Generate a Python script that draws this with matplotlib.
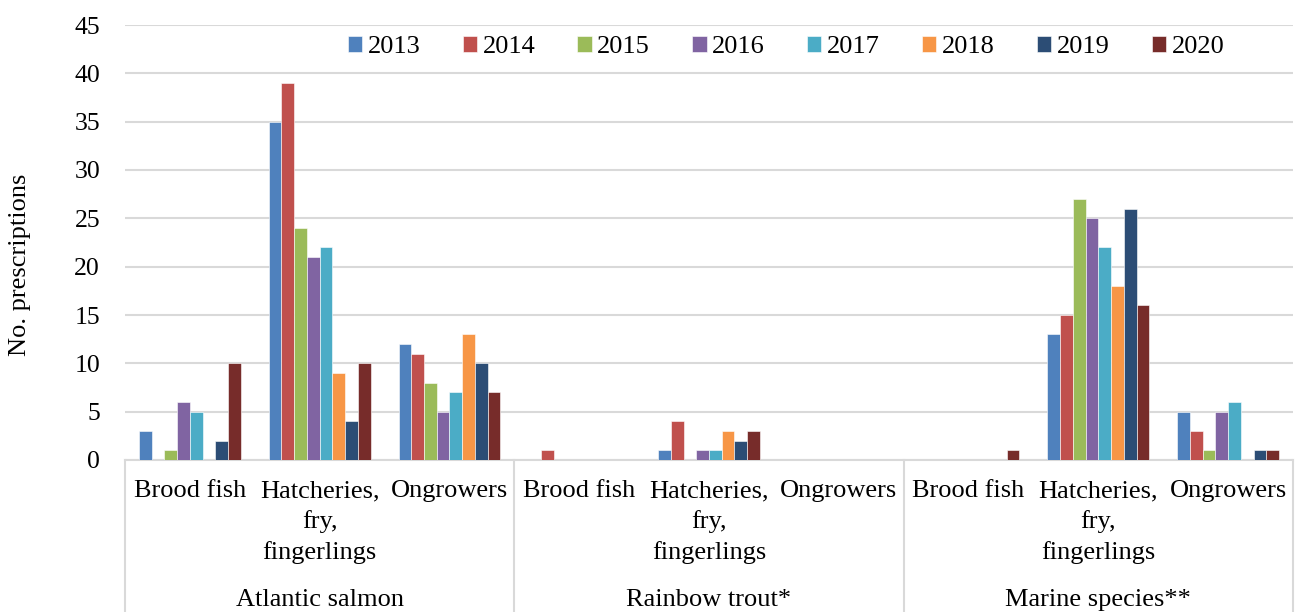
import matplotlib
matplotlib.use("Agg")
import matplotlib.pyplot as plt
import numpy as np
from matplotlib.transforms import blended_transform_factory
from matplotlib.lines import Line2D

years = ["2013", "2014", "2015", "2016", "2017", "2018", "2019", "2020"]
groups = ["Atlantic salmon", "Rainbow trout*", "Marine species**"]
stages = ["Brood fish", "Hatcheries,\nfry,\nfingerlings", "Ongrowers"]

# values per category (group x stage), one entry per year
salmon_brood = [3, 0, 1, 6, 5, 0, 2, 10]
salmon_hatch = [35, 39, 24, 21, 22, 9, 4, 10]
salmon_ongrow = [12, 11, 8, 5, 7, 13, 10, 7]
trout_brood = [0, 1, 0, 0, 0, 0, 0, 0]
trout_hatch = [1, 4, 0, 1, 1, 3, 2, 3]
trout_ongrow = [0, 0, 0, 0, 0, 0, 0, 0]
marine_brood = [0, 0, 0, 0, 0, 0, 0, 1]
marine_hatch = [13, 15, 27, 25, 22, 18, 26, 16]
marine_ongrow = [5, 3, 1, 5, 6, 0, 1, 1]

colors = ["#4F81BD", "#C0504D", "#9BBB59", "#8064A2", "#4BACC6",
          "#F79646", "#2C4D75", "#772C2A"]

data = np.array([salmon_brood, salmon_hatch, salmon_ongrow,
                 trout_brood, trout_hatch, trout_ongrow,
                 marine_brood, marine_hatch, marine_ongrow])

plt.rcParams['font.family'] = ['Liberation Serif', 'DejaVu Serif']
FS = 19

W, H = 1295, 612
fig = plt.figure(figsize=(W / 100, H / 100), dpi=100)
left, right, top, bottom = 125, 1293, 25, 460
ax = fig.add_axes([left / W, 1 - bottom / H, (right - left) / W, (bottom - top) / H])

ncat = data.shape[0]
x = np.arange(ncat)
bw = 1 / 10.2
for i, (yr, c) in enumerate(zip(years, colors)):
    ax.bar(x + (i - 3.5) * bw, data[:, i], width=bw, color=c, label=yr,
           edgecolor="white", linewidth=0.4, zorder=3)

ax.set_xlim(-0.5, ncat - 0.5)
ax.set_ylim(0, 45)
ax.set_yticks(np.arange(0, 46, 5))
ax.yaxis.grid(True, color="#D9D9D9", linewidth=1.5, zorder=0)
ax.set_axisbelow(True)
for s in ["left", "right", "top"]:
    ax.spines[s].set_visible(False)
ax.spines["bottom"].set_color("#D9D9D9")
ax.spines["bottom"].set_linewidth(1.5)
ax.tick_params(axis="y", length=0, labelsize=18.5, pad=18)
ax.tick_params(axis="x", length=0, labelbottom=False)

fig.text(20 / W, 1 - 265 / H, "No. prescriptions", rotation=90, ha="center",
         va="center", fontsize=FS)

# multi-level category labels
trans = blended_transform_factory(ax.transData, fig.transFigure)
for k in range(ncat):
    ax.text(k, 1 - 480 / H, stages[k % 3], transform=trans, ha="center",
            va="top", fontsize=FS, linespacing=1.44, clip_on=False)
for g, name in enumerate(groups):
    ax.text(3 * g + 1, 1 - 600 / H, name, transform=trans, ha="center",
            va="center", fontsize=FS, clip_on=False)
for b in [-0.5, 2.5, 5.5, 8.5]:
    ln = Line2D([b, b], [1 - bottom / H, 0], transform=trans, color="#D9D9D9",
                linewidth=1.5, clip_on=False)
    fig.add_artist(ln)

leg = ax.legend(ncol=8, loc="center", bbox_to_anchor=(786 / W, 1 - 47 / H),
                bbox_transform=fig.transFigure, frameon=False, fontsize=FS,
                handlelength=0.55, handleheight=0.55, handletextpad=0.2,
                columnspacing=1.6, borderpad=0)

fig.savefig("out.png", dpi=100)
